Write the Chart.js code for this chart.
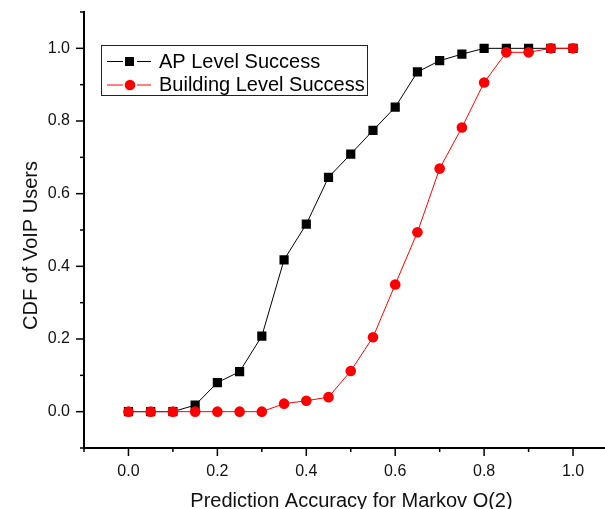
<!DOCTYPE html>
<html>
<head>
<meta charset="utf-8">
<script src="https://cdn.jsdelivr.net/npm/chart.js@4/dist/chart.umd.min.js"></script>
<style>
  html, body { margin: 0; padding: 0; background: #fff; overflow: hidden; }
  #wrap { position: relative; width: 624px; height: 509px; }
</style>
</head>
<body>
<div id="wrap"><canvas id="c" width="624" height="509" style="width:624px;height:509px"></canvas></div>
<script>
// Prediction accuracy bins (x) and CDF of users at each bin
const accuracy = [0.00, 0.05, 0.10, 0.15, 0.20, 0.25, 0.30, 0.35, 0.40, 0.45, 0.50,
                  0.55, 0.60, 0.65, 0.70, 0.75, 0.80, 0.85, 0.90, 0.95, 1.00];
const apLevel = [0.000, 0.000, 0.000, 0.018, 0.080, 0.110, 0.208, 0.418, 0.516, 0.645, 0.709,
                 0.774, 0.838, 0.935, 0.966, 0.984, 1.000, 1.000, 1.000, 1.000, 1.000];
const buildingLevel = [0.000, 0.000, 0.000, 0.000, 0.000, 0.000, 0.000, 0.022, 0.030, 0.040, 0.112,
                       0.205, 0.350, 0.494, 0.669, 0.782, 0.906, 0.989, 0.989, 1.000, 1.000];
const seriesNames = ['AP Level Success', 'Building Level Success'];
const majorTicks = [0.0, 0.2, 0.4, 0.6, 0.8, 1.0];
const minorTicks = [-0.1, 0.1, 0.3, 0.5, 0.7, 0.9, 1.1];
const xTitle = 'Prediction Accuracy for Markov O(2)';
const yTitle = 'CDF of VoIP Users';

const FONT = '"Liberation Sans", Arial, sans-serif';

function pts(ys) { return accuracy.map((x, i) => ({ x: x, y: ys[i] })); }

// Outward tick marks: long at labelled values, short in between
const tickMarks = {
  id: 'tickMarks',
  afterDraw(chart) {
    const ctx = chart.ctx;
    const xs = chart.scales.x, ys = chart.scales.y;
    const area = chart.chartArea;
    ctx.save();
    ctx.strokeStyle = '#000';
    ctx.lineWidth = 1.5;
    const mark = (v, len) => {
      const px = xs.getPixelForValue(v);
      ctx.beginPath();
      ctx.moveTo(px, area.bottom);
      ctx.lineTo(px, area.bottom + len);
      ctx.stroke();
      const py = ys.getPixelForValue(v);
      ctx.beginPath();
      ctx.moveTo(area.left, py);
      ctx.lineTo(area.left - len, py);
      ctx.stroke();
    };
    majorTicks.forEach(v => mark(v, 8));
    minorTicks.forEach(v => mark(v, 4));
    ctx.restore();
  }
};

// Axis titles
const axisTitles = {
  id: 'axisTitles',
  afterDraw(chart) {
    const ctx = chart.ctx;
    ctx.save();
    ctx.fillStyle = '#111';
    ctx.font = '20px ' + FONT;
    ctx.textAlign = 'center';
    ctx.textBaseline = 'alphabetic';
    ctx.fillText(xTitle, 351.5, 507);
    ctx.translate(37, 245.5);
    ctx.rotate(-Math.PI / 2);
    ctx.fillText(yTitle, 0, 0);
    ctx.restore();
  }
};

// Boxed legend in the upper-left of the plot
const boxLegend = {
  id: 'boxLegend',
  afterDraw(chart) {
    const ctx = chart.ctx;
    const ds = chart.data.datasets;
    ctx.save();
    ctx.strokeStyle = '#222';
    ctx.lineWidth = 1;
    ctx.strokeRect(101.5, 45.5, 266, 50);
    const rows = [61, 84.5];
    [0, 1].forEach((di, r) => {
      const d = ds[di];
      const y = rows[r];
      ctx.strokeStyle = d.borderColor;
      ctx.lineWidth = 1;
      ctx.beginPath();
      ctx.moveTo(107, y + 0.5); ctx.lineTo(123, y + 0.5);
      ctx.moveTo(137, y + 0.5); ctx.lineTo(151, y + 0.5);
      ctx.stroke();
      ctx.fillStyle = d.pointBackgroundColor;
      if (d.pointStyle === 'rect') {
        ctx.fillRect(125, y - 4, 9, 9);
      } else {
        ctx.beginPath();
        ctx.arc(130, y + 0.5, 5.3, 0, Math.PI * 2);
        ctx.fill();
      }
      ctx.fillStyle = '#000';
      ctx.font = '20px ' + FONT;
      ctx.textBaseline = 'alphabetic';
      ctx.textAlign = 'left';
      ctx.fillText(d.label, 159, y + 6.5);
    });
    ctx.restore();
  }
};

function fixedTicks(s) { s.ticks = majorTicks.map(v => ({ value: v })); }
function noPad(s) { s.paddingTop = 0; s.paddingBottom = 0; s.paddingLeft = 0; s.paddingRight = 0; }

new Chart(document.getElementById('c'), {
  type: 'line',
  data: {
    datasets: [
      {
        label: seriesNames[0],
        data: pts(apLevel),
        borderColor: '#000',
        backgroundColor: '#000',
        pointBackgroundColor: '#000',
        pointBorderColor: '#000',
        pointBorderWidth: 0,
        pointStyle: 'rect',
        pointRadius: 6.5,
        borderWidth: 1,
        tension: 0,
        order: 1
      },
      {
        label: seriesNames[1],
        data: pts(buildingLevel),
        borderColor: '#ff0000',
        backgroundColor: '#ff0000',
        pointBackgroundColor: '#ff0000',
        pointBorderColor: '#ff0000',
        pointBorderWidth: 0,
        pointStyle: 'circle',
        pointRadius: 5.3,
        borderWidth: 1,
        tension: 0,
        order: 0
      }
    ]
  },
  options: {
    responsive: false,
    animation: false,
    events: [],
    layout: { padding: { top: 12, right: 0, bottom: 0, left: 0 } },
    plugins: { legend: { display: false }, tooltip: { enabled: false } },
    scales: {
      x: {
        type: 'linear',
        min: -0.1,
        max: 1.1,
        afterBuildTicks: fixedTicks,
        afterFit(s) { s.height = 61; noPad(s); },
        grid: { display: false },
        border: { display: true, color: '#000', width: 2 },
        ticks: {
          autoSkip: false,
          maxRotation: 0,
          padding: 6,
          color: '#111',
          font: { family: FONT, size: 16 },
          callback: v => v.toFixed(1)
        }
      },
      y: {
        type: 'linear',
        min: -0.1,
        max: 1.1,
        afterBuildTicks: fixedTicks,
        afterFit(s) { s.width = 84; noPad(s); },
        grid: { display: false },
        border: { display: true, color: '#000', width: 2 },
        ticks: {
          autoSkip: false,
          padding: 6,
          color: '#111',
          font: { family: FONT, size: 16 },
          callback: v => v.toFixed(1)
        }
      }
    }
  },
  plugins: [tickMarks, axisTitles, boxLegend]
});
</script>
</body>
</html>
